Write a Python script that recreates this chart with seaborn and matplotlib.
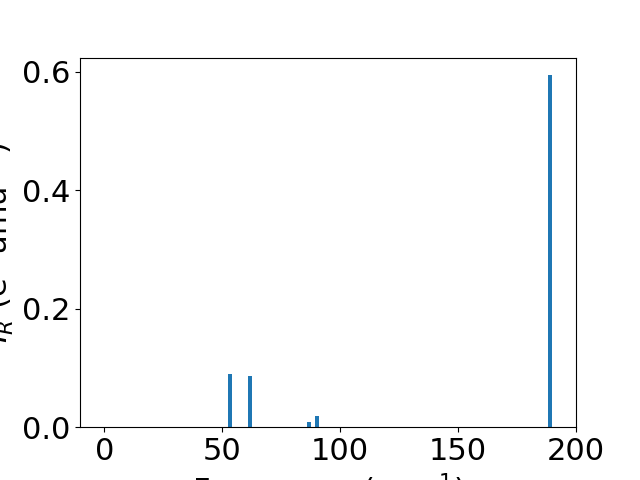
import pandas as pd
import matplotlib
matplotlib.use('Agg')
import matplotlib.pyplot as plt
import seaborn as sns

# Frequências e intensidades
freqs = [0.0, 53.1, 61.9, 86.6, 90.0, 189.0]
intensities = [0.0, 0.0905, 0.087, 0.008, 0.0197, 0.594]

df = pd.DataFrame({'freq': freqs, 'intensity': intensities})

plt.rcParams['font.size'] = 22

fig, ax = plt.subplots(figsize=(6.4, 4.8), dpi=100)
sns.barplot(x='freq', y='intensity', data=df, ax=ax, native_scale=True,
            width=0.5, color='#1f77b4', saturation=1, errorbar=None)

ax.set_xlabel('Frequency (cm$^{-1}$)')
ax.set_ylabel('$I_R$ (e$^2$ amu$^{-1}$)')
ax.set_xticks([0, 50, 100, 150, 200])
ax.set_yticks([0.0, 0.2, 0.4, 0.6])
plt.savefig('out.png', dpi=100)
